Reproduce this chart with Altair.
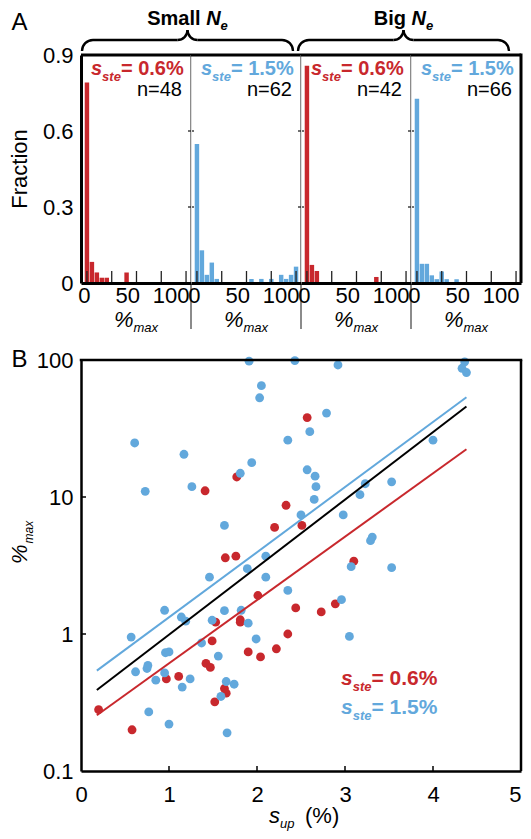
import math
import altair as alt
import pandas as pd

FONT = "Liberation Sans"
RED = "#C8282D"
BLUE = "#62A8DC"
GRAY = "#5a5a5a"

# ---------------- Panel A data (histograms of %max, 5%-wide bins) ----------------
bin_centers = [0, 5, 10, 15, 20, 25, 30, 35, 40, 45, 50, 55, 60, 65, 70, 75, 80, 85, 90, 95, 100]
small_red_counts = [38, 4, 2, 1, 1, 0, 0, 0, 2, 0, 0, 0, 0, 0, 0, 0, 0, 0, 0, 0, 0]
small_blue_counts = [34, 8, 2, 5, 1, 0, 0, 0, 0, 0, 0, 1, 0, 1, 0, 1, 0, 2, 1, 2, 4]
big_red_counts = [36, 3, 2, 0, 0, 0, 0, 0, 0, 0, 0, 0, 0, 0, 1, 0, 0, 0, 0, 0, 0]
big_blue_counts = [48, 5, 5, 2, 1, 3, 1, 0, 1, 0, 0, 0, 0, 0, 0, 0, 0, 0, 0, 0, 0]
panel_counts = [small_red_counts, small_blue_counts, big_red_counts, big_blue_counts]
panel_n = [48, 62, 42, 66]
panel_ste = ["0.6", "1.5", "0.6", "1.5"]
group_titles = ["Small ", "Big "]
a_xlabels = [0, 50, 100]
a_xticks = [0, 25, 50, 75, 100]
a_yticks = [0, 0.3, 0.6, 0.9]
a_divider_ticks = [0.3, 0.6]

# ---------------- Panel B data ----------------
red_sup = [1.77, 1.41, 2.20, 1.64, 1.76, 2.57, 2.33, 2.51, 3.10, 2.44, 2.73, 2.89, 2.35, 2.22,
           2.04, 2.01, 1.53, 1.81, 1.81, 1.49, 1.90, 1.42, 1.47, 1.11, 0.97, 1.63, 1.65, 1.52,
           0.20, 0.58]
red_pmax = [14.0, 11.1, 6.0, 3.6, 3.7, 38, 8.7, 6.2, 3.4, 1.55, 1.45, 1.66, 1.0, 0.78,
            0.68, 1.91, 1.22, 1.27, 1.22, 0.89, 0.74, 0.61, 0.57, 0.49, 0.47, 0.40, 0.37, 0.32,
            0.28, 0.20]
blue_sup = [1.91, 2.05, 2.03, 0.61, 1.17, 1.94, 1.81, 0.73, 1.26, 1.63, 1.89, 2.10, 1.46, 2.10,
            2.43, 2.92, 4.36, 4.33, 4.38, 2.79, 2.60, 2.35, 4.00, 2.57, 2.66, 2.67, 3.23, 3.53,
            3.17, 2.65, 2.50, 2.98, 3.31, 3.29, 3.07, 3.53,
            2.35, 2.96, 3.05,
            0.95, 1.63, 1.82, 1.14, 1.19, 1.49, 1.90, 0.57, 1.99, 1.37, 0.96, 1.00, 1.56, 0.62,
            0.75, 0.76, 0.95, 0.85, 1.24, 1.65, 1.74, 1.15, 1.59, 0.77, 1.00, 1.66]
blue_pmax = [98, 65, 53, 24.8, 20.5, 17.8, 14.9, 11.0, 11.9, 6.2, 3.0, 3.7, 2.6, 2.6,
             99, 92, 97, 87, 81, 41, 30, 26, 26, 15.8, 14.2, 11.9, 12.5, 12.9,
             10.4, 9.6, 7.4, 7.4, 5.1, 4.8, 3.1, 3.05,
             2.08, 1.78, 0.96,
             1.49, 1.48, 1.49, 1.33, 1.24, 1.26, 1.20, 0.95, 0.92, 0.86, 0.73, 0.74, 0.69, 0.53,
             0.56, 0.59, 0.52, 0.46, 0.47, 0.45, 0.43, 0.41, 0.35, 0.27, 0.22, 0.19]
fit_sup = [0.18, 4.38]
fit_red = [0.255, 22.3]
fit_blue = [0.54, 53.5]
fit_all = [0.39, 45.8]
b_xticks = [0, 1, 2, 3, 4, 5]
b_inner_xticks = [1, 2, 3, 4]
b_yticks = [0.1, 1, 10, 100]
b_inner_yticks = [1, 10]

# ---------------- helpers ----------------
PW, PH = 110, 228      # each histogram panel
BW, BH = 440, 411      # scatter panel
LX = -72               # left edge of panel letters / titles
ONE = pd.DataFrame({"k": [0]})

REG = {' ': 278, '%': 889, '(': 333, ')': 333, '.': 278, '=': 584, 'a': 556, 'e': 556, 'm': 833,
       'n': 556, 'p': 556, 's': 500, 't': 278, 'u': 556, 'x': 500, 'S': 667, 'N': 722, 'B': 667,
       'i': 222, 'g': 556, 'l': 222}
BOLD = {' ': 278, '%': 889, '.': 278, '=': 584, 'a': 556, 'e': 556, 'm': 889, 'n': 611, 's': 556,
        't': 333, 'S': 667, 'N': 722, 'B': 722, 'i': 278, 'g': 611, 'l': 278}


def tw(s, size, bold=False):
    table = BOLD if bold else REG
    return sum(table.get(c, 556) for c in s) * size / 1000.0


def txt(s, x, y, size, color="black", bold=False, italic=False, align="left",
        baseline="alphabetic", angle=0):
    kw = dict(text=s, font=FONT, fontSize=size, color=color, align=align, baseline=baseline,
              fontWeight="bold" if bold else "normal",
              fontStyle="italic" if italic else "normal")
    if angle:
        kw["angle"] = angle
    return alt.Chart(ONE).mark_text(**kw).encode(x=alt.value(x), y=alt.value(y))


def sste(x, y, size, subsize, color, rest):
    x1 = x + tw("s", size, True)
    x2 = x1 + tw("ste", subsize, True)
    return [txt("s", x, y, size, color, bold=True, italic=True),
            txt("ste", x1, y + 6, subsize, color, bold=True, italic=True),
            txt(rest, x2, y, size, color, bold=True)]


def hline(x1, x2, y, w, color="black"):
    return alt.Chart(ONE).mark_rect(color=color).encode(
        x=alt.value(x1), x2=alt.value(x2), y=alt.value(y - w / 2), y2=alt.value(y + w / 2))


def vline(x, y1, y2, w, color="black"):
    return alt.Chart(ONE).mark_rect(color=color).encode(
        x=alt.value(x - w / 2), x2=alt.value(x + w / 2), y=alt.value(y1), y2=alt.value(y2))


def arc(cx, cy, r, t1, t2, w):
    return alt.Chart(ONE).mark_arc(color="black").encode(
        x=alt.value(cx), y=alt.value(cy), theta=alt.value(t1), theta2=alt.value(t2),
        radius=alt.value(r + w / 2), radius2=alt.value(r - w / 2))


def brace(xl, xr, y_end, y_bar, y_tip, w=2.4):
    xt = (xl + xr) / 2
    r = y_end - y_bar
    r2 = y_bar - y_tip
    P = math.pi
    return [arc(xl + r, y_end, r, 1.5 * P, 2 * P, w),
            arc(xt - r2, y_tip, r2, 0.5 * P, P, w),
            arc(xt + r2, y_tip, r2, P, 1.5 * P, w),
            arc(xr - r, y_end, r, 0, 0.5 * P, w),
            hline(xl + r, xt - r2, y_bar, w),
            hline(xt + r2, xr - r, y_bar, w)]


def group_title(word, xc, y):
    w1 = tw(word, 20, True)
    w2 = tw("N", 20, True)
    w3 = tw("e", 13, True)
    x0 = xc - (w1 + w2 + w3) / 2
    return [txt(word, x0, y, 20, bold=True),
            txt("N", x0 + w1, y, 20, bold=True, italic=True),
            txt("e", x0 + w1 + w2, y + 5, 13, bold=True, italic=True)]


# ---------------- Panel A ----------------
xs_a = alt.Scale(domain=[-6, 105], nice=False, zero=False)
ys_a = alt.Scale(domain=[0, 0.9], nice=False)
xaxis_a = alt.Axis(values=a_xlabels, title=None, ticks=False, domainWidth=3, domainColor="black",
                   labelAlign="right", labelOffset=3, labelFlush=False, labelPadding=2,
                   labelFontSize=22, grid=False, zindex=1)
yaxis_a = alt.Axis(values=a_yticks, title=None, ticks=False, domainWidth=3,
                   domainColor="black", labelPadding=8, labelFontSize=22, grid=False,
                   labelExpr="datum.value == 0 ? '0' : format(datum.value, '.1f')", zindex=1)


def panel(i):
    color = RED if panel_ste[i] == "0.6" else BLUE
    df = pd.DataFrame({"c": bin_centers, "count": panel_counts[i]})
    df = df[df["count"] > 0].copy()
    df["frac"] = df["count"] / panel_n[i]
    df["base"] = 0.0
    df["lo"] = df["c"] - 2.25
    df["hi"] = df["c"] + 2.25
    yaxis = yaxis_a if i == 0 else None

    layers = [alt.Chart(df).mark_rect(color=color).encode(
        x=alt.X("lo:Q", scale=xs_a, axis=xaxis_a),
        x2="hi:Q",
        y=alt.Y("frac:Q", scale=ys_a, axis=yaxis),
        y2="base:Q")]

    layers.append(alt.Chart(pd.DataFrame({"t": a_xticks})).mark_rule(
        color="#222222", strokeWidth=1.3).encode(
        x=alt.X("t:Q", scale=xs_a, axis=xaxis_a), y=alt.value(PH), y2=alt.value(PH - 12)))

    layers.append(hline(0, PW, 0, 3))
    if i < 3:
        layers.append(vline(PW, 0, PH + 46, 1.4, GRAY))
        layers.append(alt.Chart(pd.DataFrame({"v": a_divider_ticks})).mark_rule(
            color="#222222", strokeWidth=1.3).encode(
            x=alt.value(PW - 3), x2=alt.value(PW + 3),
            y=alt.Y("v:Q", scale=ys_a, axis=yaxis)))
    else:
        layers.append(vline(PW, -1.5, PH, 3))

    rest = "= " + panel_ste[i] + "%"
    layers += sste(10, 20, 20, 13, color, rest)
    layers.append(txt("n=%d" % panel_n[i], 101, 41, 20, align="right"))

    # %max axis title under each panel
    w1 = tw("%", 22)
    w2 = tw("max", 13)
    x0 = PW / 2 - (w1 + w2) / 2
    layers.append(txt("%", x0, PH + 44, 22, italic=True))
    layers.append(txt("max", x0 + w1, PH + 49, 13, italic=True))

    if i == 0:
        layers.append(txt("A", LX + 2.5, -44, 24, baseline="top"))
        layers.append(txt("Fraction", LX + 18, PH / 2, 22, align="center", angle=270))
        layers += brace(1, 2 * PW - 8, -4, -15, -25)
        layers += brace(2 * PW - 3, 4 * PW - 12, -4, -15, -25)
        layers += group_title(group_titles[0], (1 + 2 * PW - 8) / 2, -30)
        layers += group_title(group_titles[1], (2 * PW - 3 + 4 * PW - 12) / 2, -30)

    return alt.layer(*layers).properties(width=PW, height=PH)


row_a = alt.hconcat(*[panel(i) for i in range(4)], spacing=0, bounds="flush")

# ---------------- Panel B ----------------
xs_b = alt.Scale(domain=[0, 5], nice=False, zero=False)
ys_b = alt.Scale(type="log", domain=[0.1, 100], nice=False)
cs = alt.Scale(domain=["0.6", "1.5", "all"], range=[RED, BLUE, "black"])

pts = pd.DataFrame({
    "sup": red_sup + blue_sup,
    "pmax": red_pmax + blue_pmax,
    "g": ["0.6"] * len(red_sup) + ["1.5"] * len(blue_sup),
})
fits = pd.DataFrame({
    "sup": fit_sup * 3,
    "pmax": fit_red + fit_blue + fit_all,
    "g": ["0.6"] * 2 + ["1.5"] * 2 + ["all"] * 2,
})

bx_axis = alt.Axis(values=b_xticks, format="d", title=None, ticks=False, domainWidth=2.5,
                   domainColor="black", labelFlush=False, labelPadding=13, labelFontSize=22,
                   labelAlign={"condition": {"test": "datum.value == 5", "value": "right"},
                               "value": "center"},
                   grid=False, zindex=1)
by_axis = alt.Axis(values=b_yticks, title=None, ticks=False, domainWidth=2.5, domainColor="black",
                   labelPadding=8, labelFontSize=22, grid=False, zindex=1,
                   labelExpr="datum.value < 1 ? format(datum.value, '.1f') : format(datum.value, 'd')")

b_layers = [
    alt.Chart(pts).mark_circle(size=78, opacity=1).encode(
        x=alt.X("sup:Q", scale=xs_b, axis=bx_axis),
        y=alt.Y("pmax:Q", scale=ys_b, axis=by_axis),
        color=alt.Color("g:N", scale=cs, legend=None)),
    alt.Chart(fits).mark_line(strokeWidth=2).encode(
        x=alt.X("sup:Q", scale=xs_b, axis=bx_axis),
        y=alt.Y("pmax:Q", scale=ys_b, axis=by_axis),
        color=alt.Color("g:N", scale=cs, legend=None)),
    alt.Chart(pd.DataFrame({"t": b_inner_xticks})).mark_rule(color="black", strokeWidth=1.5).encode(
        x=alt.X("t:Q", scale=xs_b, axis=bx_axis), y=alt.value(BH), y2=alt.value(BH - 5)),
    alt.Chart(pd.DataFrame({"t": b_inner_yticks})).mark_rule(color="black", strokeWidth=1.5).encode(
        y=alt.Y("t:Q", scale=ys_b, axis=by_axis), x=alt.value(0), x2=alt.value(5)),
    hline(-1.25, BW + 1.25, 0, 2.5),
    vline(BW, 0, BH, 2.5),
    txt("B", LX + 2.5, 0, 24, baseline="middle"),
    txt("%", LX + 18, 204, 22, italic=True, angle=270),
    txt("max", LX + 24, 204 - tw("%", 22) - 1, 12, italic=True, angle=270),
    txt("s", 188, BH + 52, 22, italic=True),
    txt("up", 188 + tw("s", 22), BH + 57, 13, italic=True),
    txt("(%)", 224, BH + 52, 22),
]
b_layers += sste(260, 325, 21, 13, RED, " = 0.6%")
b_layers += sste(260, 354, 21, 13, BLUE, " = 1.5%")

chart_b = alt.layer(*b_layers).properties(width=BW, height=BH)

chart = alt.vconcat(row_a, chart_b, spacing=11).properties(padding=0).configure_view(
    stroke="transparent").configure_axis(labelFont=FONT, labelColor="black").configure(font=FONT)

chart.save("out.html", embed_options={"renderer": "svg", "actions": False})
